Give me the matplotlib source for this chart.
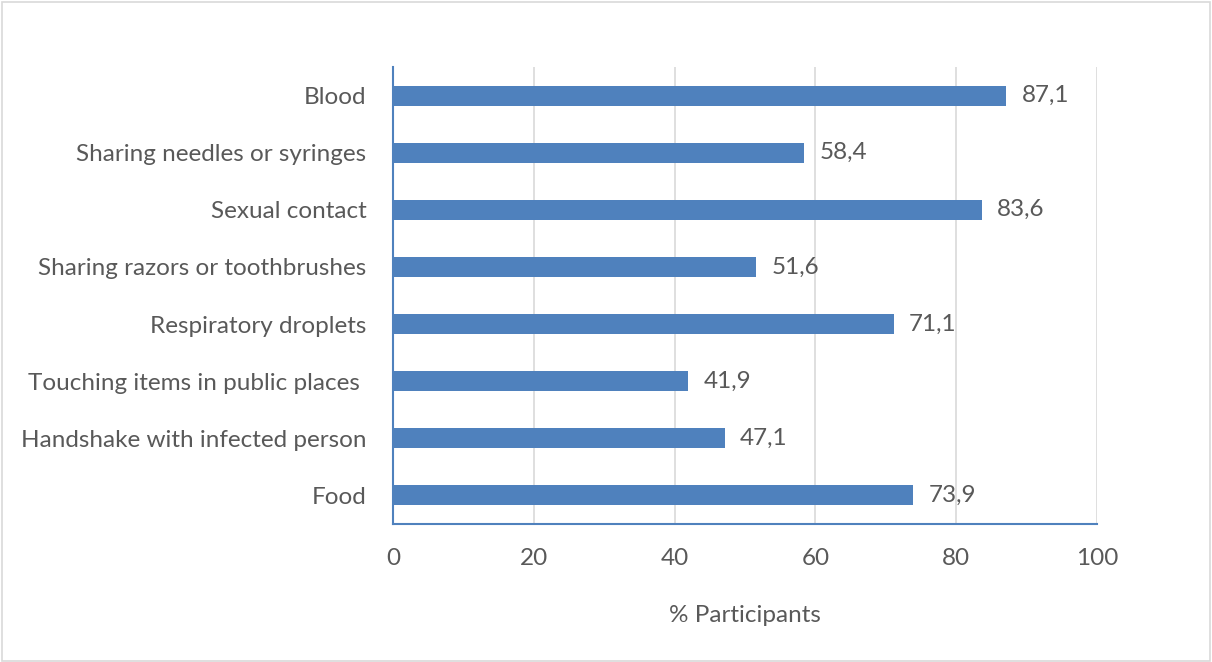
import matplotlib.pyplot as plt
from matplotlib.patches import Rectangle

categories = [
    "Blood",
    "Sharing needles or syringes",
    "Sexual contact",
    "Sharing razors or toothbrushes",
    "Respiratory droplets",
    "Touching items in public places ",
    "Handshake with infected person",
    "Food",
]
values = [87.1, 58.4, 83.6, 51.6, 71.1, 41.9, 47.1, 73.9]
xticks = [0, 20, 40, 60, 80, 100]

plt.rcParams["font.family"] = ["Lato", "DejaVu Sans"]
fs = 17.5
txt = "#595959"

fig = plt.figure(figsize=(12.12, 6.62), dpi=100)
ax = fig.add_axes([393 / 1212, 1 - 524 / 662, (1097 - 393) / 1212, (524 - 67) / 662])

# figure border
fig.patches.append(Rectangle((0.002, 0.002), 0.996, 0.995, transform=fig.transFigure,
                             fill=False, edgecolor="#d9d9d9", linewidth=1.2))

ypos = list(range(len(categories)))
ax.barh(ypos, values, height=0.35, color="#4f81bd", zorder=3)
ax.set_ylim(len(categories) - 0.5, -0.5)
ax.set_xlim(0, 100)
ax.set_yticks(ypos)
ax.set_yticklabels(categories, fontsize=fs, color=txt)
ax.set_xticks(xticks)
ax.set_xticklabels([str(t) for t in xticks], fontsize=fs, color=txt)
ax.tick_params(axis="both", length=0)
ax.tick_params(axis="x", pad=17)
ax.tick_params(axis="y", pad=19)

ax.grid(axis="x", color="#d9d9d9", linewidth=1.2, zorder=0)
for side in ["top", "right"]:
    ax.spines[side].set_visible(False)
ax.spines["left"].set_color("#4f81bd")
ax.spines["bottom"].set_color("#4f81bd")
ax.spines["left"].set_linewidth(1.5)
ax.spines["bottom"].set_linewidth(1.5)

for y, v in zip(ypos, values):
    ax.annotate(str(v).replace(".", ","), (v, y), xytext=(11, 0), textcoords="offset points",
                va="center", ha="left", fontsize=fs, color=txt)

ax.set_xlabel("% Participants", fontsize=fs, color=txt, labelpad=26)

fig.savefig("out.png", dpi=100)
